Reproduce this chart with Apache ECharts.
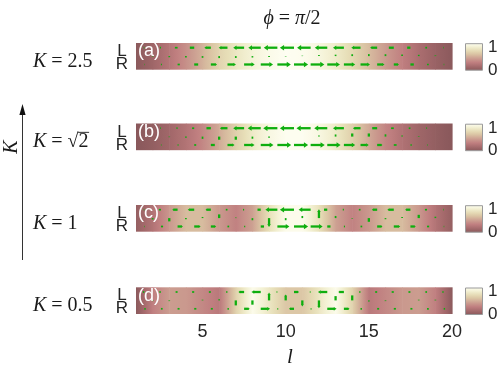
<!DOCTYPE html>
<html><head><meta charset="utf-8">
<script src="https://cdn.jsdelivr.net/npm/echarts@6/dist/echarts.min.js"></script>
<style>html,body{margin:0;padding:0;background:#fff}#c{width:502px;height:371px}</style>
</head><body><div id="c"></div><script>
// ---- data ----
const sites = [1,2,3,4,5,6,7,8,9,10,11,12,13,14,15,16,17,18,19,20];
const bonds = [1.5,2.5,3.5,4.5,5.5,6.5,7.5,8.5,9.5,10.5,11.5,12.5,13.5,14.5,15.5,16.5,17.5,18.5,19.5];
const tickLabels = [5,10,15,20];
const kValues = ['2.5','√2','1','0.5'];
const panelTags = ['(a)','(b)','(c)','(d)'];
const rowLabels = ['L','R'];
const cbTicks = ['1','0'];

// density along the ladder (normalised, 0..1)
const densA = [0.02,0.12,0.24,0.38,0.53,0.69,0.80,0.89,0.96,1.00,0.98,0.92,0.83,0.71,0.57,0.43,0.30,0.18,0.09,0.02];
const densB = [0.01,0.06,0.13,0.22,0.34,0.50,0.67,0.82,0.93,0.99,0.99,0.93,0.82,0.66,0.49,0.33,0.21,0.12,0.06,0.01];
const densC = [0.07,0.22,0.42,0.57,0.57,0.42,0.31,0.46,0.76,0.97,0.97,0.76,0.46,0.31,0.42,0.57,0.57,0.42,0.22,0.07];
const densD = [0.02,0.30,0.44,0.42,0.34,0.26,0.68,0.97,0.80,0.62,0.62,0.80,0.97,0.68,0.26,0.34,0.42,0.44,0.30,0.02];

// leg currents on bonds (positive = to the right), rung currents on sites (positive = up, R->L)
const legLA = [-0.04,-0.08,-0.19,-0.31,-0.46,-0.62,-0.77,-0.88,-0.96,-1.00,-0.96,-0.88,-0.77,-0.65,-0.50,-0.35,-0.23,-0.12,-0.04];
const legRA = [0.03,0.07,0.16,0.28,0.44,0.60,0.75,0.87,0.95,1.00,0.97,0.90,0.80,0.67,0.52,0.37,0.24,0.12,0.04];
const rungA = [0.00,-0.03,-0.08,-0.10,-0.12,-0.14,-0.13,-0.10,-0.07,-0.03,0.03,0.07,0.10,0.13,0.14,0.13,0.11,0.09,0.05,0.00];

const legLB = [-0.02,-0.05,-0.08,-0.15,-0.31,-0.54,-0.77,-0.92,-1.00,-1.00,-1.00,-0.92,-0.77,-0.54,-0.35,-0.19,-0.12,-0.05,-0.02];
const legRB = [0.02,0.04,0.07,0.14,0.28,0.50,0.74,0.90,0.98,1.00,1.00,0.94,0.80,0.58,0.38,0.20,0.10,0.04,0.02];
const rungB = [0.00,-0.02,-0.04,-0.08,-0.16,-0.22,-0.22,-0.15,-0.08,0.00,0.00,0.08,0.15,0.22,0.22,0.16,0.08,0.04,0.02,0.00];

const legLC = [-0.04,-0.15,-0.38,-0.46,-0.38,-0.12,-0.08,-0.23,-0.85,-1.00,-0.85,-0.23,-0.08,-0.12,-0.38,-0.46,-0.38,-0.15,-0.04];
const legRC = [0.04,0.15,0.38,0.46,0.38,0.12,0.08,0.23,0.85,1.00,0.85,0.23,0.08,0.12,0.38,0.46,0.38,0.15,0.04];
const rungC = [0.00,-0.10,-0.23,-0.08,0.08,0.26,0.04,-0.15,-0.62,-0.15,0.15,0.62,0.15,-0.04,-0.26,-0.08,0.08,0.23,0.10,0.00];

const legLD = [-0.10,-0.12,-0.14,-0.15,-0.14,-0.10,-0.40,-0.66,-0.06,0.36,-0.06,-0.66,-0.40,-0.10,-0.14,-0.15,-0.14,-0.12,-0.10];
const legRD = [0.10,0.12,0.14,0.15,0.14,0.10,0.40,0.66,0.06,-0.36,0.06,0.66,0.40,0.10,0.14,0.15,0.14,0.12,0.10];
const rungD = [0.00,-0.05,-0.05,0.00,0.05,0.08,-0.35,-0.30,0.55,0.42,-0.42,-0.55,0.30,0.35,-0.08,-0.05,0.00,0.05,0.05,0.00];

// ---- styling / layout ----
const cmap = [[0,'#87575a'],[0.15,'#a56a6c'],[0.3,'#c07f80'],[0.45,'#cc9f91'],[0.6,'#dac3a3'],[0.75,'#e7dfb8'],[0.88,'#f4f2d6'],[1,'#fefef2']];
const GREEN = '#0eae0e';
const TOPS = [43, 123.5, 205, 287.3];
const GL = 136, GW = 316, GH = 26.7;
const YMIN = 0.69, YMAX = 2.28, QS = 0.85;
const SERIF = 'Liberation Serif', SANS = 'Liberation Sans';

function hex(h){return [parseInt(h.substr(1,2),16),parseInt(h.substr(3,2),16),parseInt(h.substr(5,2),16)];}
const cm = cmap.map(s=>[s[0],hex(s[1])]);
function colorAt(v){
  v = Math.max(0, Math.min(1, v));
  for (let i=0;i<cm.length-1;i++){
    const a=cm[i], b=cm[i+1];
    if (v<=b[0]){
      const t=(v-a[0])/(b[0]-a[0]);
      const c=a[1].map((x,k)=>Math.round(x+(b[1][k]-x)*t));
      return 'rgb('+c.join(',')+')';
    }
  }
  return 'rgb('+cm[cm.length-1][1].join(',')+')';
}

const panels = [
  {dens:densA, L:legLA, R:legRA, V:rungA},
  {dens:densB, L:legLB, R:legRB, V:rungB},
  {dens:densC, L:legLC, R:legRC, V:rungC},
  {dens:densD, L:legLD, R:legRD, V:rungD}
];

function renderHeat(params, api){
  const l=api.value(0), v0=api.value(1), v1=api.value(2);
  const cs=params.coordSys;
  const x0=api.coord([l,1.5])[0], x1=api.coord([l+1,1.5])[0];
  const stops=[];
  for(let k=0;k<=6;k++){const t=k/6; stops.push({offset:t,color:colorAt(v0+(v1-v0)*t)});}
  return {type:'rect', shape:{x:x0,y:cs.y,width:x1-x0+0.6,height:cs.height},
    style:{fill:new echarts.graphic.LinearGradient(0,0,1,0,stops)}};
}
function renderArrow(params, api){
  const x=api.value(0), y=api.value(1), u=api.value(2), v=api.value(3);
  const p0=api.coord([x,y]), p1=api.coord([x+u*QS,y+v*QS]);
  const dx=p1[0]-p0[0], dy=p1[1]-p0[1], len=Math.hypot(dx,dy);
  if(len<0.3) return {type:'group',children:[]};
  const ux=dx/len, uy=dy/len;
  let hl=0,hw=0;
  if(len>5){hl=Math.min(len*0.3,4.2); hw=Math.min(len*0.2,2.7);}
  const bx=p1[0]-ux*hl, by=p1[1]-uy*hl;
  const ch=[{type:'line', shape:{x1:p0[0],y1:p0[1],x2:hl?bx+ux*0.5:p1[0],y2:hl?by+uy*0.5:p1[1]},
    style:{stroke:GREEN,lineWidth:len>3?2.3:1.7}}];
  if(hl) ch.push({type:'polygon', shape:{points:[[p1[0],p1[1]],[bx-uy*hw,by+ux*hw],[bx+uy*hw,by-ux*hw]]}, style:{fill:GREEN}});
  return {type:'group',children:ch};
}

const grid=[], xAxis=[], yAxis=[], series=[];
panels.forEach((p,i)=>{
  grid.push({left:GL, top:TOPS[i], width:GW, height:GH});
  xAxis.push({gridIndex:i, type:'value', min:1, max:20,
    axisLine:{show:false}, axisTick:{show:false}, splitLine:{show:false},
    axisLabel: i===3 ? {show:true, customValues:tickLabels, fontSize:18, color:'#262626', fontFamily:SANS, margin:9} : {show:false}});
  yAxis.push({gridIndex:i, type:'value', min:YMIN, max:YMAX, show:false});
  series.push({type:'custom', xAxisIndex:i, yAxisIndex:i, renderItem:renderHeat, silent:true,
    encode:{x:0,y:1},
    data: sites.slice(0,-1).map((l,k)=>[l,p.dens[k],p.dens[k+1]])});
  const ad = [].concat(
    bonds.map((b,k)=>[b,2,p.L[k],0]),
    bonds.map((b,k)=>[b,1,p.R[k],0]),
    sites.map((s,k)=>[s,1.5,0,p.V[k]]));
  series.push({type:'custom', xAxisIndex:i, yAxisIndex:i, renderItem:renderArrow, silent:true, z:5,
    encode:{x:0,y:1}, data:ad});
});

// ---- decorations ----
const g=[];
function txt(x,y,text,opt){
  const o=Object.assign({fontSize:16,fontFamily:SANS,fill:'#262626',align:'left',verticalAlign:'middle'},opt||{});
  o.textAlign=o.align; o.textVerticalAlign=o.verticalAlign; o.text=text;
  return {type:'text', x:x, y:y, z:100, style:o, rotation:(opt&&opt.rot)||0};
}
const richI = {i:{fontStyle:'italic',fontFamily:SERIF,fontSize:20,fill:'#1a1a1a'}, n:{fontFamily:SERIF,fontSize:20,fill:'#1a1a1a'}};
const mctx=document.createElement('canvas').getContext('2d');
panels.forEach((p,i)=>{
  const t=TOPS[i];
  g.push(txt(138, t-0.5, panelTags[i], {fontSize:18, fill:'#ffffff', verticalAlign:'top'}));
  g.push(txt(122, t+8.5, rowLabels[0], {fontSize:17, align:'center'}));
  g.push(txt(122, t+21.5, rowLabels[1], {fontSize:17, align:'center'}));
  const cy=t+GH/2+5;
  g.push(txt(33, cy, '{i|K}{n| = '+kValues[i]+'}', {rich:richI, fontFamily:SERIF, fontSize:20}));
  if(kValues[i].indexOf('√')>=0){
    mctx.font='italic 20px '+SERIF; const w1=mctx.measureText('K').width;
    mctx.font='20px '+SERIF; const w2=mctx.measureText(' = √').width, w3=mctx.measureText('2').width;
    g.push({type:'line', z:100, shape:{x1:33+w1+w2-0.5,y1:cy-9.5,x2:33+w1+w2+w3+0.5,y2:cy-9.5}, style:{stroke:'#1a1a1a',lineWidth:0.9}});
  }
  // colorbar
  const stops=[]; for(let k=0;k<=10;k++){stops.push({offset:k/10,color:colorAt(1-k/10)});}
  g.push({type:'rect', z:100, shape:{x:465.5,y:t+0.7,width:17,height:26.5},
    style:{fill:new echarts.graphic.LinearGradient(0,0,0,1,stops), stroke:'#9a9a9a', lineWidth:1}});
  g.push(txt(488, t+4.5, cbTicks[0], {fontSize:17}));
  g.push(txt(488, t+27, cbTicks[1], {fontSize:17}));
});
g.push(txt(292, 19, '{i|ϕ}{n| = }{i|π}{n|/2}', {rich:richI, align:'center', fontFamily:SERIF, fontSize:20}));
g.push(txt(290, 357, '{i|l}', {rich:{i:{fontStyle:'italic',fontFamily:SERIF,fontSize:21,fill:'#1a1a1a'}}, align:'center'}));
g.push(txt(12, 147, '{i|K}', {rich:richI, align:'center', rot:Math.PI/2}));
g.push({type:'line', z:100, shape:{x1:22.5,y1:260,x2:22.5,y2:112}, style:{stroke:'#333',lineWidth:1}});
g.push({type:'polygon', z:100, shape:{points:[[22.5,104],[19.4,115],[25.6,115]]}, style:{fill:'#111'}});

const chart=echarts.init(document.getElementById('c'),null,{renderer:'canvas'});
chart.setOption({animation:false, backgroundColor:'#ffffff', grid, xAxis, yAxis, series, graphic:{elements:g}});
</script></body></html>
